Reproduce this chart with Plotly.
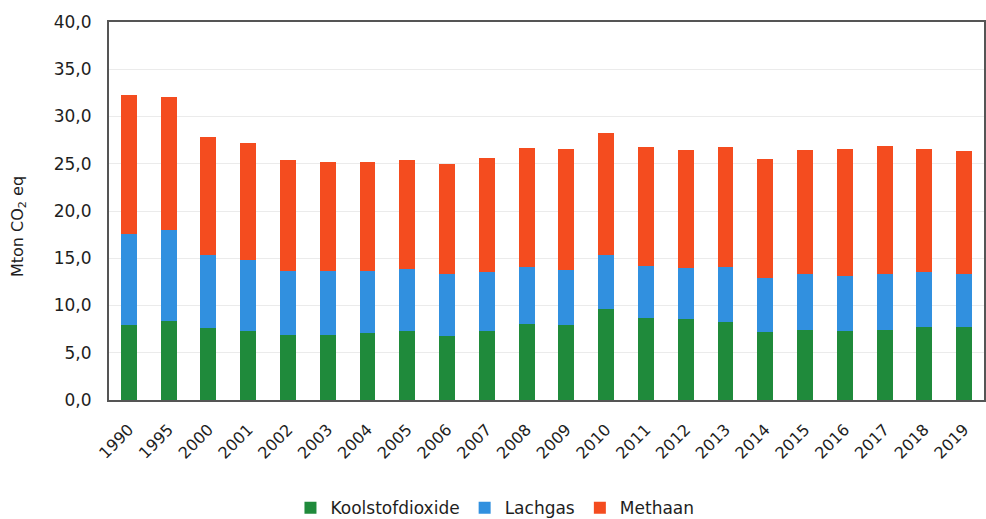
import plotly.graph_objects as go

years = ["1990", "1995", "2000", "2001", "2002", "2003", "2004", "2005", "2006", "2007", "2008",
         "2009", "2010", "2011", "2012", "2013", "2014", "2015", "2016", "2017", "2018", "2019"]

# Cumulative levels (Mton CO2 eq)
co2_top = [7.9, 8.4, 7.6, 7.3, 6.9, 6.9, 7.1, 7.3, 6.75, 7.3, 8.0,
           7.9, 9.6, 8.7, 8.55, 8.27, 7.2, 7.4, 7.3, 7.45, 7.75, 7.75]
n2o_top = [17.6, 17.95, 15.3, 14.8, 13.65, 13.65, 13.65, 13.9, 13.3, 13.55, 14.1,
           13.8, 15.3, 14.15, 13.97, 14.1, 12.9, 13.3, 13.1, 13.3, 13.55, 13.3]
totals = [32.3, 32.1, 27.8, 27.2, 25.45, 25.2, 25.2, 25.35, 25.0, 25.6, 26.7,
          26.6, 28.3, 26.75, 26.5, 26.75, 25.5, 26.5, 26.6, 26.85, 26.6, 26.4]

koolstofdioxide = co2_top
lachgas = [round(n - c, 2) for n, c in zip(n2o_top, co2_top)]
methaan = [round(t - n, 2) for t, n in zip(totals, n2o_top)]

series = [
    ("Koolstofdioxide", koolstofdioxide, "#1f8a3b"),
    ("Lachgas", lachgas, "#3190df"),
    ("Methaan", methaan, "#f44c1f"),
]

y_title = "Mton CO<sub>2</sub> eq"

font_family = "DejaVu Sans, Verdana, sans-serif"
text_color = "#1e1e1e"

fig = go.Figure()
for name, vals, color in series:
    fig.add_trace(go.Bar(
        x=years, y=vals, name=name,
        marker=dict(color=color, line=dict(width=0)),
        width=0.4,
    ))

fig.add_annotation(
    text=y_title, textangle=-90,
    xref="paper", yref="paper",
    x=(18 - 109) / 875, y=(400 - 227) / 378,
    xanchor="center", yanchor="middle",
    showarrow=False,
    font=dict(size=16, color=text_color),
)

fig.update_layout(
    barmode="stack",
    width=986, height=519,
    margin=dict(l=109, r=2, t=22, b=119),
    paper_bgcolor="white",
    plot_bgcolor="white",
    separators=", ",
    font=dict(family=font_family, size=15, color=text_color),
    showlegend=True,
    legend=dict(
        orientation="h",
        xref="container", yref="container",
        x=0.502, xanchor="center",
        y=0.021, yanchor="middle",
        font=dict(size=17, color=text_color),
        traceorder="normal",
        itemwidth=30,
    ),
    xaxis=dict(
        tickangle=-45,
        tickfont=dict(size=16, color=text_color),
        showline=True, linecolor="#555555", linewidth=2, mirror=True,
        showgrid=False,
        ticks="",
        automargin=False,
        ticklabelstandoff=12,
    ),
    yaxis=dict(
        range=[0, 40],
        dtick=5,
        tickformat=".1f",
        tickfont=dict(size=17, color=text_color),
        showline=True, linecolor="#555555", linewidth=2, mirror=True,
        showgrid=True, gridcolor="#ebebeb", gridwidth=1,
        zeroline=False,
        ticks="",
        automargin=False,
        ticklabelstandoff=12,
    ),
)

post = (
    "document.body.style.margin='0px';"
    "document.body.style.overflow='hidden';"
)

fig.write_html("out.html", post_script=post, config={"displayModeBar": False})
